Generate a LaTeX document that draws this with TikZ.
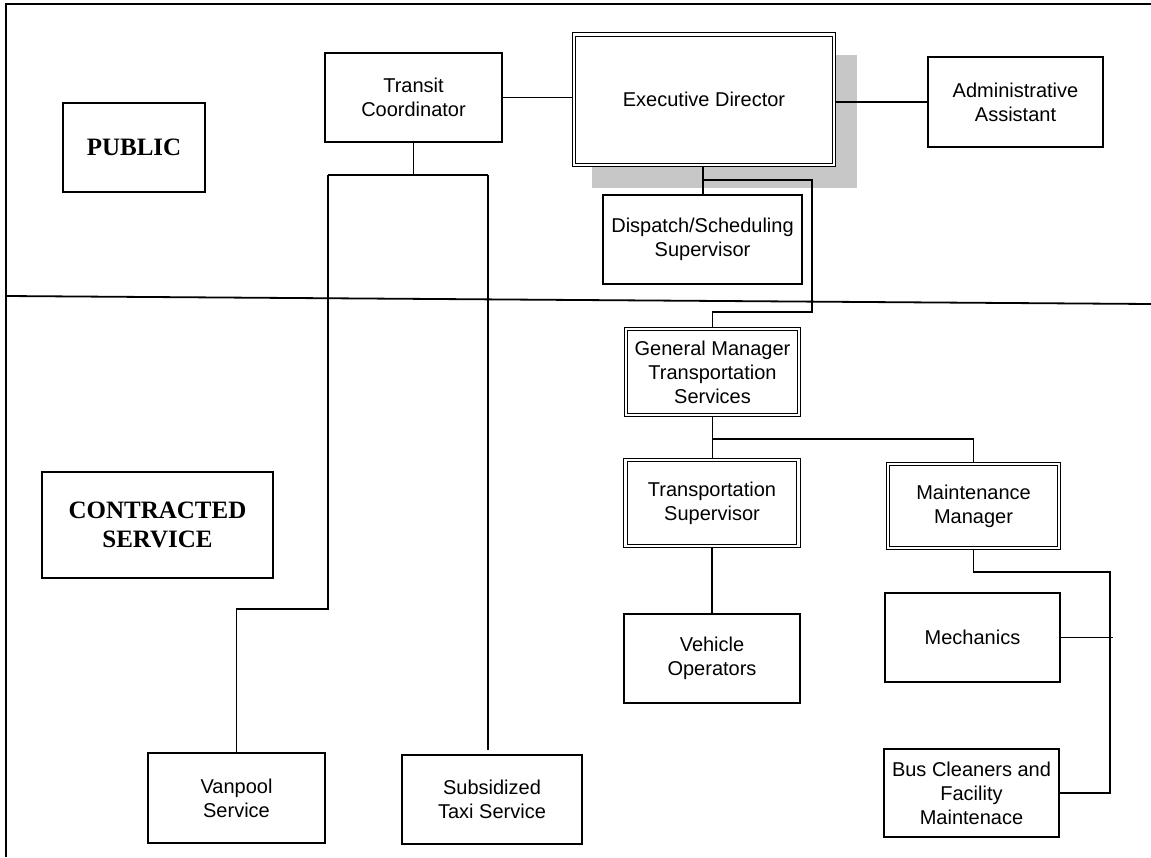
\documentclass[tikz,border=0pt]{standalone}
\usepackage{fontspec}
\setmainfont{Liberation Sans}
\newfontfamily\headfont{Liberation Serif}
\begin{document}
\begin{tikzpicture}[x=1pt,y=-1pt,
  wh/.style 2 args={minimum width=#1pt, minimum height=#2pt},
  box/.style={draw, line width=1.3pt, fill=white, align=center, inner sep=0pt,
    font=\fontsize{20}{24}\selectfont},
  dbox/.style={box, double, double distance=2.4pt, line width=1.1pt},
  region/.style={draw, line width=1.3pt, fill=white, align=center, inner sep=0pt,
    font=\headfont\bfseries\fontsize{25}{29}\selectfont},
  link/.style={line width=1.3pt},
  frame/.style={line width=2pt}]
\useasboundingbox (0,0) rectangle (1151,857);

% page frame and the public / contracted divider
\draw[frame] (6,857) -- (6,4) -- (1151,4);
\draw[line width=1.8pt] (6,296) -- (1151,304);

% drop shadow behind the director
\fill[black!22] (592,55) rectangle (857,188);

% region labels
\node[region, wh={142}{89}]  (public)     at (134,147.5) {PUBLIC};
\node[region, wh={231}{106}] (contracted) at (157.5,525) {CONTRACTED\\SERVICE};

% positions
\node[box,  wh={177}{89}]    (transit)  at (413.5,97.5)  {Transit\\Coordinator};
\node[dbox, wh={260}{130.5}] (exec)     at (704,99.75)   {Executive Director};
\node[box,  wh={175}{90}]    (admin)    at (1015.5,102)  {Administrative\\Assistant};
\node[box,  wh={199}{89}]    (dispatch) at (702.5,239.5) {Dispatch/Scheduling\\Supervisor};
\node[dbox, wh={173}{86}]    (gm)       at (712.5,372)   {General Manager\\Transportation\\Services};
\node[dbox, wh={173}{86}]    (ts)       at (712,503)     {Transportation\\Supervisor};
\node[dbox, wh={171}{84}]    (mm)       at (973.5,506)   {Maintenance\\Manager};
\node[box,  wh={176}{89}]    (vehicle)  at (712,658.5)   {Vehicle\\Operators};
\node[box,  wh={175}{89}]    (mech)     at (972.5,637.5) {Mechanics};
\node[box,  wh={175}{88}]    (bus)      at (971.5,793)   {Bus Cleaners and\\Facility\\Maintenace};
\node[box,  wh={177}{90}]    (vanpool)  at (236.5,798)   {Vanpool\\Service};
\node[box,  wh={180}{89}]    (taxi)     at (492,799.5)   {Subsidized\\Taxi Service};

% junction points of the reporting lines
\coordinate (tcj)  at (413.5,175);
\coordinate (tcl)  at (328,175);
\coordinate (tcr)  at (488,175);
\coordinate (vpj)  at (328,609);
\coordinate (taxiend) at (488,750);
\coordinate (exj)  at (703,180);
\coordinate (exr)  at (812,180);
\coordinate (gmj)  at (812,312);
\coordinate (gmj2) at (712.5,312);
\coordinate (tsj)  at (712.5,439);
\coordinate (mmj)  at (973.5,572);
\coordinate (mmr)  at (1110,572);
\coordinate (mechend) at (1113,637.5);

% reporting lines
\draw[link] (transit.east) -- (transit.east -| exec.west);
\draw[link] (exec.east |- admin.west) -- (admin.west);
\draw[link] (transit.south) -- (tcj);
\draw[link] (tcl) -- (tcr);
\draw[link] (tcl) -- (vpj) -| (vanpool.north);
\draw[link] (tcr) -- (taxiend);
\draw[link] (exj |- exec.south) -- (exj |- dispatch.north);
\draw[link] (exj) -- (exr) -- (gmj) -- (gmj2) -- (gm.north);
\draw[link] (gm.south) -- (gm.south |- ts.north);
\draw[link] (tsj) -| (mm.north);
\draw[link] (ts.south) -- (ts.south |- vehicle.north);
\draw[link] (mm.south) -- (mmj) -- (mmr) |- (bus.east);
\draw[link] (mech.east) -- (mechend);
\end{tikzpicture}
\end{document}
